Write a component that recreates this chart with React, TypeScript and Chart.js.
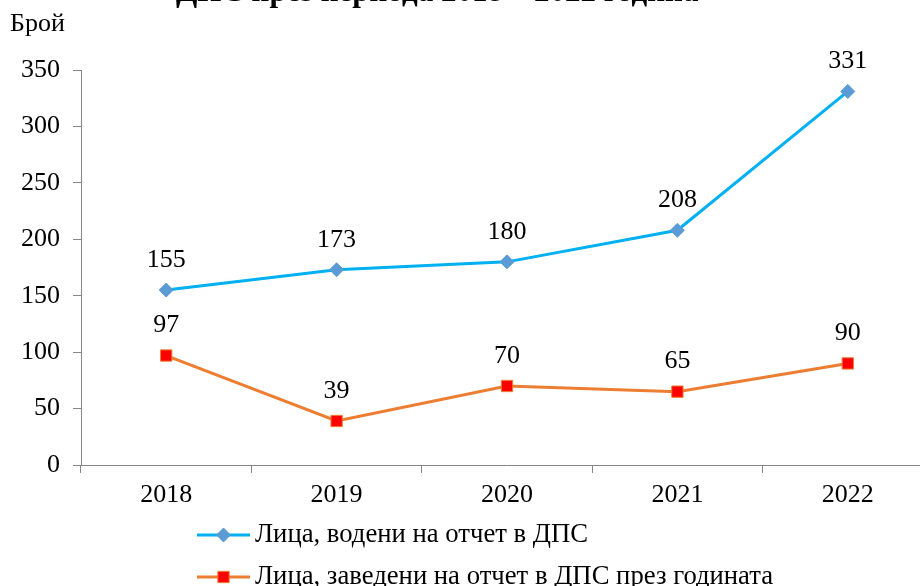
import React, { useEffect, useRef } from "react";
import { Chart, registerables } from "chart.js";

Chart.register(...registerables);

const categories = ["2018", "2019", "2020", "2021", "2022"];
const seriesTotal = [155, 173, 180, 208, 331];
const seriesNew = [97, 39, 70, 65, 90];
const seriesNames = [
  "Лица, водени на отчет в ДПС",
  "Лица, заведени на отчет в ДПС през годината",
];
const yMin = 0;
const yMax = 350;
const yStep = 50;
const titleText = "ДПС през периода 2018 – 2022 година";
const yAxisTitle = "Брой";

const FONT = "'Liberation Serif', 'Times New Roman', serif";
const AXIS_COLOR = "#868686";

const labelsPlugin = {
  id: "valueLabels",
  afterDatasetsDraw(chart: any) {
    const ctx = chart.ctx;
    ctx.save();
    ctx.font = `26px ${FONT}`;
    ctx.fillStyle = "#000";
    ctx.textAlign = "center";
    ctx.textBaseline = "middle";
    chart.data.datasets.forEach((ds: any, i: number) => {
      const meta = chart.getDatasetMeta(i);
      meta.data.forEach((pt: any, j: number) => {
        ctx.fillText(String(ds.data[j]), pt.x, pt.y - 30);
      });
    });
    ctx.restore();
  },
};

const decorPlugin = {
  id: "decor",
  afterDraw(chart: any) {
    const ctx = chart.ctx;
    const area = chart.chartArea;
    ctx.save();
    // title (cropped at top in the reference)
    ctx.font = `bold 31px ${FONT}`;
    ctx.fillStyle = "#000";
    ctx.textAlign = "left";
    ctx.textBaseline = "alphabetic";
    ctx.fillText(titleText, 176, 1);
    // axis title
    ctx.font = `26px ${FONT}`;
    ctx.textAlign = "left";
    ctx.textBaseline = "middle";
    ctx.fillText(yAxisTitle, 10, 24);
    // legend
    chart.data.datasets.forEach((ds: any, i: number) => {
      const y = area.bottom + 70 + i * 42;
      const x0 = 197;
      const x1 = 250;
      ctx.strokeStyle = ds.borderColor;
      ctx.lineWidth = ds.borderWidth;
      ctx.beginPath();
      ctx.moveTo(x0, y);
      ctx.lineTo(x1, y);
      ctx.stroke();
      ctx.fillStyle = ds.pointBackgroundColor;
      ctx.strokeStyle = ds.pointBorderColor;
      ctx.lineWidth = 1;
      const cx = (x0 + x1) / 2;
      const r = ds.pointRadius;
      ctx.beginPath();
      if (ds.pointStyle === "rectRot") {
        ctx.moveTo(cx - r, y);
        ctx.lineTo(cx, y - r);
        ctx.lineTo(cx + r, y);
        ctx.lineTo(cx, y + r);
        ctx.closePath();
      } else {
        const s = r * Math.SQRT1_2;
        ctx.rect(cx - s, y - s, 2 * s, 2 * s);
      }
      ctx.fill();
      ctx.stroke();
      ctx.fillStyle = "#000";
      ctx.font = `26.7px ${FONT}`;
      ctx.textAlign = "left";
      ctx.textBaseline = "middle";
      ctx.fillText(ds.label, 255, y);
    });
    ctx.restore();
  },
};

export default function App() {
  const ref = useRef<HTMLCanvasElement | null>(null);

  useEffect(() => {
    if (!ref.current) return;
    const chart = new Chart(ref.current, {
      type: "line",
      data: {
        labels: categories,
        datasets: [
          {
            label: seriesNames[0],
            data: seriesTotal,
            borderColor: "#00B0F0",
            backgroundColor: "#00B0F0",
            borderWidth: 3,
            pointStyle: "rectRot",
            pointRadius: 7,
            pointHoverRadius: 7,
            pointBackgroundColor: "#5B9BD5",
            pointBorderColor: "#5B9BD5",
            pointBorderWidth: 1,
            tension: 0,
          },
          {
            label: seriesNames[1],
            data: seriesNew,
            borderColor: "#ED7D31",
            backgroundColor: "#ED7D31",
            borderWidth: 3,
            pointStyle: "rect",
            pointRadius: 8,
            pointHoverRadius: 8,
            pointBackgroundColor: "#FF0000",
            pointBorderColor: "#ED7D31",
            pointBorderWidth: 1,
            tension: 0,
          },
        ],
      },
      options: {
        animation: false,
        responsive: true,
        maintainAspectRatio: false,
        layout: { padding: { top: 70, left: 0, right: 3.5, bottom: 76 } },
        plugins: {
          legend: { display: false },
          title: { display: false },
          tooltip: { enabled: false },
        },
        scales: {
          x: {
            type: "category",
            offset: true,
            grid: {
              offset: true,
              drawOnChartArea: false,
              drawTicks: true,
              tickLength: 8,
              color: AXIS_COLOR,
            },
            border: { color: AXIS_COLOR, width: 1 },
            ticks: {
              font: { family: FONT, size: 26 },
              color: "#000",
              padding: 7,
              maxRotation: 0,
            },
            afterFit: (s: any) => {
              s.height = 45;
            },
          },
          y: {
            min: yMin,
            max: yMax,
            grid: {
              drawOnChartArea: false,
              drawTicks: true,
              tickLength: 8,
              color: AXIS_COLOR,
            },
            border: { color: AXIS_COLOR, width: 1 },
            ticks: {
              stepSize: yStep,
              font: { family: FONT, size: 26 },
              color: "#000",
              padding: 13,
            },
            afterFit: (s: any) => {
              s.width = 81;
            },
          },
        },
      },
      plugins: [labelsPlugin, decorPlugin],
    });
    return () => chart.destroy();
  }, []);

  return (
    <div
      style={{
        position: "fixed",
        top: 0,
        left: 0,
        width: 920,
        height: 586,
        overflow: "hidden",
        background: "#fff",
      }}
    >
      <div style={{ position: "relative", width: 942, height: 586 }}>
        <canvas ref={ref} />
      </div>
    </div>
  );
}
